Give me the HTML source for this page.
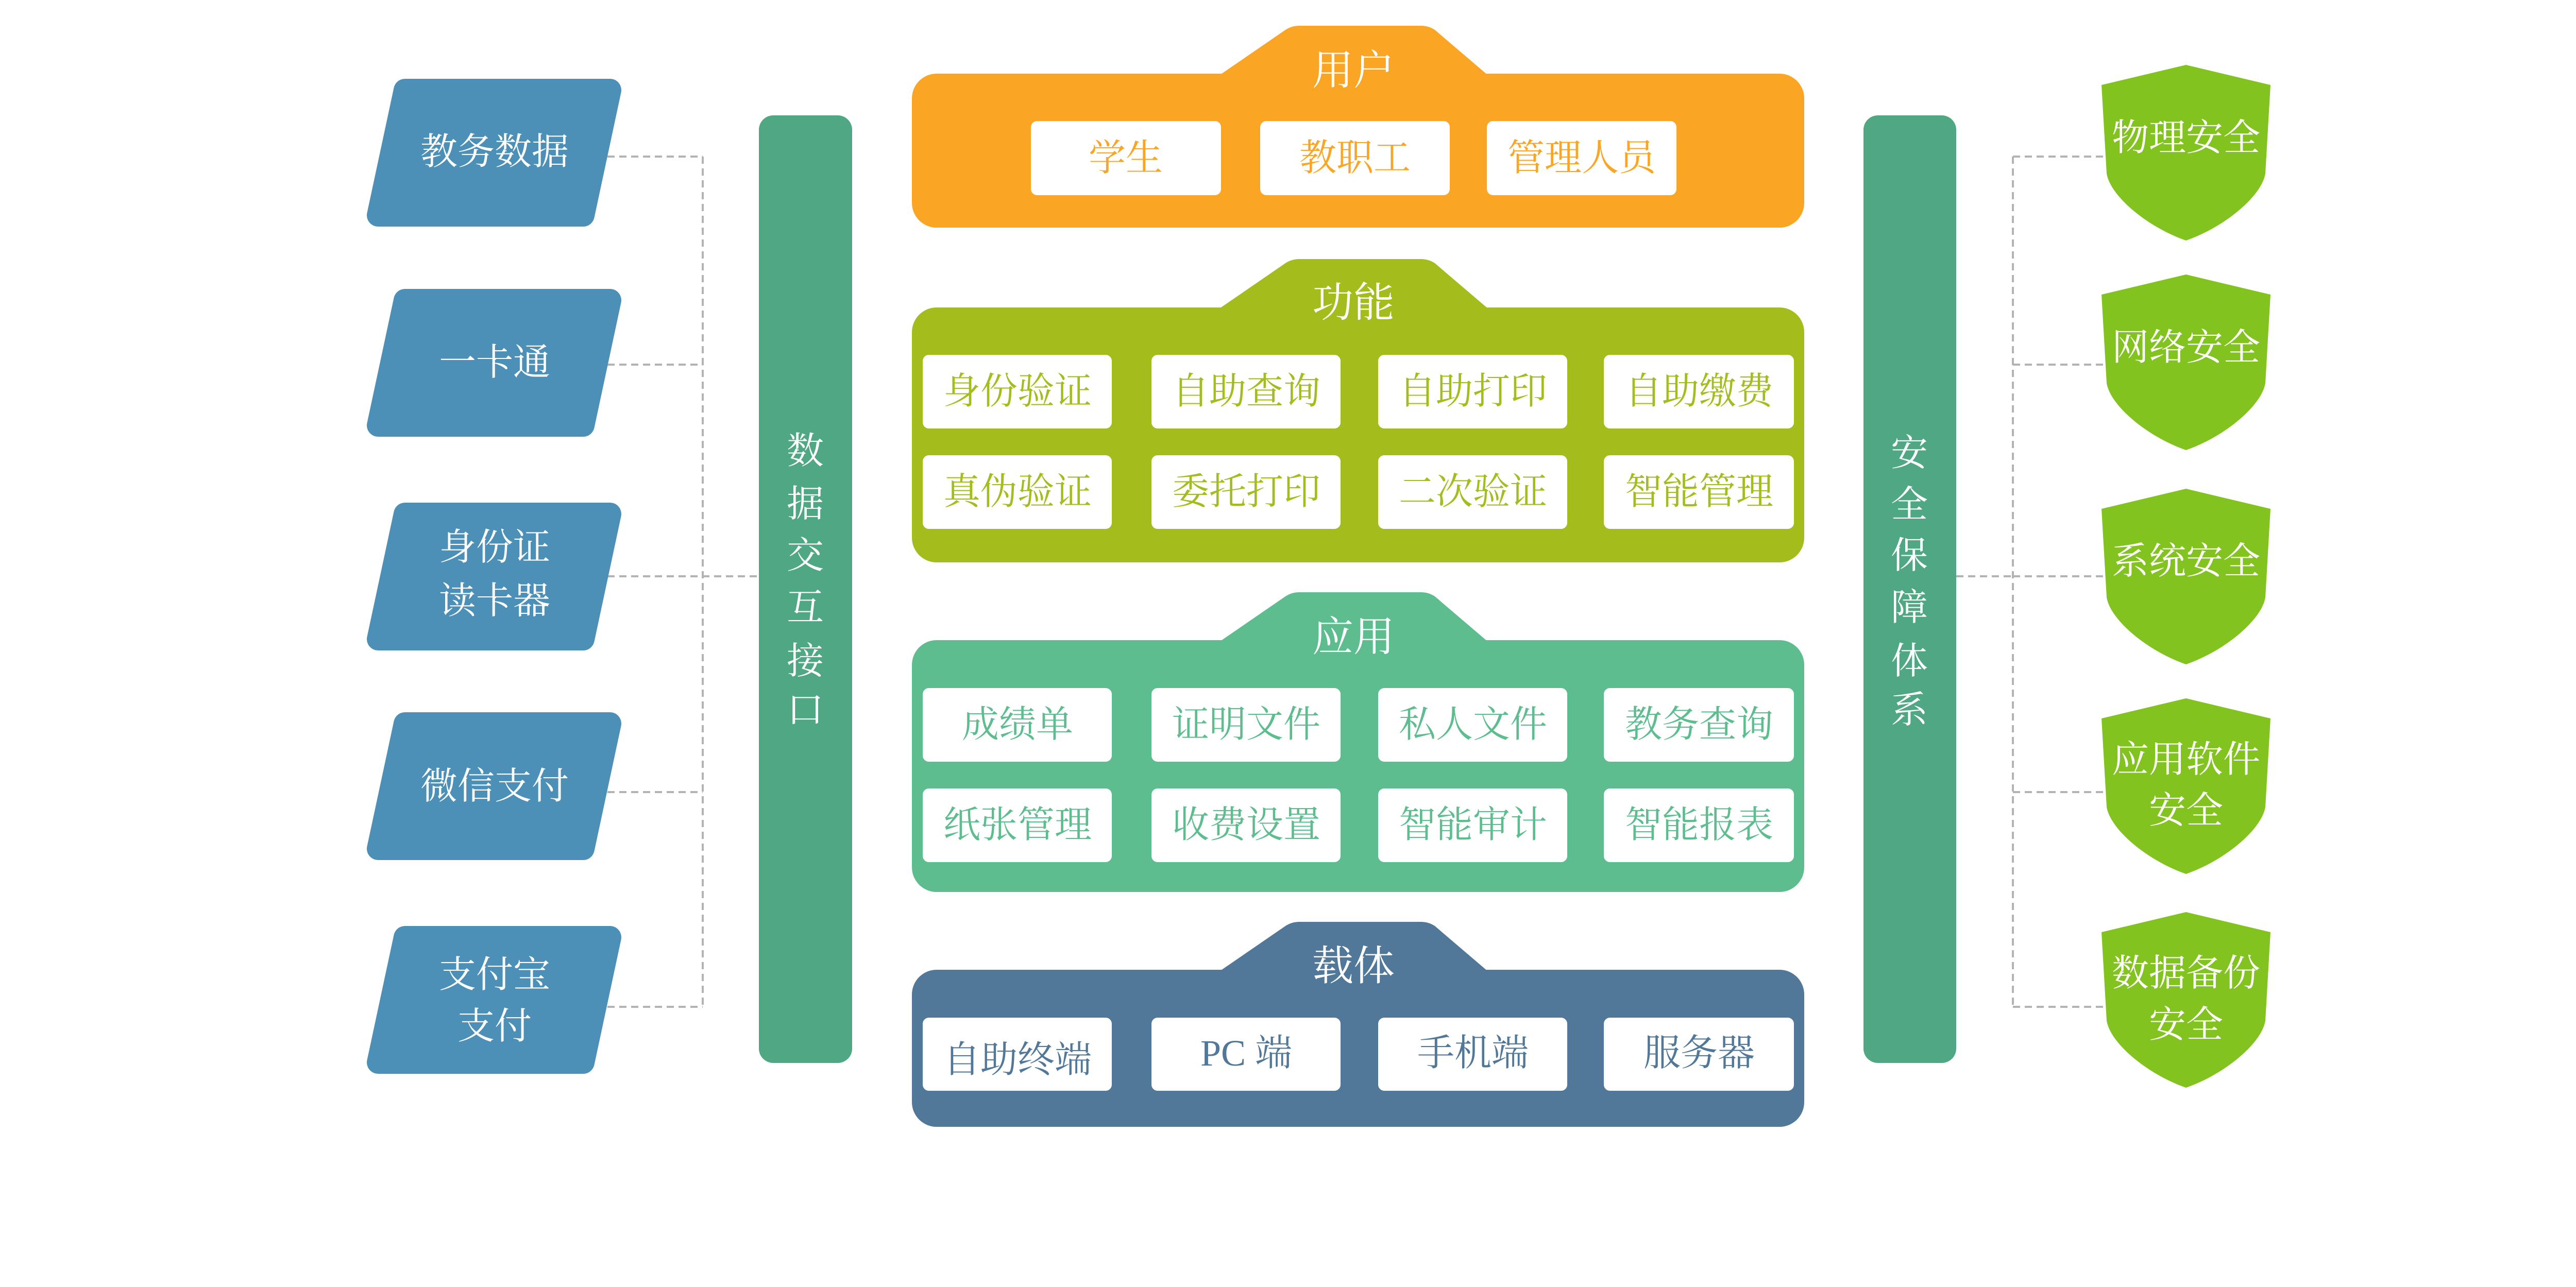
<!DOCTYPE html>
<html><head><meta charset="utf-8"><style>
html,body{margin:0;padding:0;background:#fff}
svg{display:block}
text{font-family:"Liberation Serif","Noto Serif CJK SC",serif;text-anchor:middle;dominant-baseline:central}
</style></head><body>
<svg width="5019" height="2499" viewBox="0 0 5019 2499" xmlns="http://www.w3.org/2000/svg">
<g stroke="#b3b3b3" stroke-width="4" stroke-dasharray="14,9" fill="none">
<path d="M1179,304H1364M1179,708H1364M1179,1119H1473M1179,1538H1364M1179,1955H1364M1364,304V1955"/>
<path d="M3797,1119H3907M3907,304H4092M3907,708H4092M3907,1119H4092M3907,1538H4092M3907,1955H4092M3907,304V1955"/>
</g>
<g fill="#4C90B7" stroke="#4C90B7" stroke-width="44" stroke-linejoin="round">
<polygon points="786,175 1184,175 1132,418 734,418"/>
<polygon points="786,583 1184,583 1132,826 734,826"/>
<polygon points="786,998 1184,998 1132,1241 734,1241"/>
<polygon points="786,1405 1184,1405 1132,1648 734,1648"/>
<polygon points="786,1820 1184,1820 1132,2063 734,2063"/>
</g>
<g fill="#fff" font-size="72">
<text x="960" y="295">教务数据</text>
<text x="960" y="704">一卡通</text>
<text x="960" y="1063">身份证</text>
<text x="960" y="1167">读卡器</text>
<text x="960" y="1527">微信支付</text>
<text x="960" y="1893">支付宝</text>
<text x="960" y="1993">支付</text>
</g>
<rect x="1473" y="224" width="181" height="1840" rx="28" fill="#50A783"/>
<rect x="3617" y="224" width="180" height="1840" rx="28" fill="#50A783"/>
<g fill="#fff" font-size="72">
<text x="1563" y="876">数</text><text x="1563" y="979">据</text><text x="1563" y="1079">交</text>
<text x="1563" y="1180">互</text><text x="1563" y="1284">接</text><text x="1563" y="1379">口</text>
<text x="3706" y="880">安</text><text x="3706" y="980">全</text><text x="3706" y="1079">保</text>
<text x="3706" y="1180">障</text><text x="3706" y="1284">体</text><text x="3706" y="1379">系</text>
</g>
<g fill="#82C31F">
<path d="M4243,126 L4407,165 L4397,337 C4390,380 4320,440 4243,467 C4166,440 4096,380 4089,337 L4079,165 Z"/>
<path transform="translate(0,407)" d="M4243,126 L4407,165 L4397,337 C4390,380 4320,440 4243,467 C4166,440 4096,380 4089,337 L4079,165 Z"/>
<path transform="translate(0,823)" d="M4243,126 L4407,165 L4397,337 C4390,380 4320,440 4243,467 C4166,440 4096,380 4089,337 L4079,165 Z"/>
<path transform="translate(0,1230)" d="M4243,126 L4407,165 L4397,337 C4390,380 4320,440 4243,467 C4166,440 4096,380 4089,337 L4079,165 Z"/>
<path transform="translate(0,1645)" d="M4243,126 L4407,165 L4397,337 C4390,380 4320,440 4243,467 C4166,440 4096,380 4089,337 L4079,165 Z"/>
</g>
<g fill="#fff" font-size="72">
<text x="4243" y="268">物理安全</text>
<text x="4243" y="675">网络安全</text>
<text x="4243" y="1090">系统安全</text>
<text x="4243" y="1475">应用软件</text>
<text x="4243" y="1574">安全</text>
<text x="4243" y="1890">数据备份</text>
<text x="4243" y="1990">安全</text>
</g>
<defs>
<path id="tab" d="M0,96 L128,8 Q140,0 155,0 L391,0 Q406,0 418,8 L521,96 L521,110 L0,110 Z"/>
</defs>
<use href="#tab" x="2367" y="50" fill="#FBA524"/>
<rect x="1770" y="143" width="1732" height="299" rx="48" fill="#FBA524"/>
<text x="2627" y="138" font-size="80" fill="#fff">用户</text>
<g fill="#fff"><rect x="2001" y="235" width="369" height="144" rx="12"/><rect x="2446" y="235" width="368" height="144" rx="12"/><rect x="2886" y="235" width="368" height="144" rx="12"/></g>
<g fill="#FBA524" font-size="72"><text x="2185" y="307">学生</text><text x="2630" y="307">教职工</text><text x="3070" y="307">管理人员</text></g>
<use href="#tab" x="2367" y="503" fill="#A4BD1D"/>
<rect x="1770" y="597" width="1732" height="495" rx="48" fill="#A4BD1D"/>
<text x="2627" y="589" font-size="80" fill="#fff">功能</text>
<g fill="#fff">
<rect x="1791" y="689" width="367" height="143" rx="12"/><rect x="2235" y="689" width="367" height="143" rx="12"/><rect x="2675" y="689" width="367" height="143" rx="12"/><rect x="3113" y="689" width="369" height="143" rx="12"/>
<rect x="1791" y="884" width="367" height="143" rx="12"/><rect x="2235" y="884" width="367" height="143" rx="12"/><rect x="2675" y="884" width="367" height="143" rx="12"/><rect x="3113" y="884" width="369" height="143" rx="12"/>
</g>
<g fill="#A4BD1D" font-size="72">
<text x="1975" y="760">身份验证</text><text x="2419" y="760">自助查询</text><text x="2859" y="760">自助打印</text><text x="3298" y="760">自助缴费</text>
<text x="1975" y="955">真伪验证</text><text x="2419" y="955">委托打印</text><text x="2859" y="955">二次验证</text><text x="3298" y="955">智能管理</text>
</g>
<use href="#tab" x="2367" y="1150" fill="#5EBD8F"/>
<rect x="1770" y="1243" width="1732" height="489" rx="48" fill="#5EBD8F"/>
<text x="2627" y="1238" font-size="80" fill="#fff">应用</text>
<g fill="#fff">
<rect x="1791" y="1336" width="367" height="143" rx="12"/><rect x="2235" y="1336" width="367" height="143" rx="12"/><rect x="2675" y="1336" width="367" height="143" rx="12"/><rect x="3113" y="1336" width="369" height="143" rx="12"/>
<rect x="1791" y="1531" width="367" height="143" rx="12"/><rect x="2235" y="1531" width="367" height="143" rx="12"/><rect x="2675" y="1531" width="367" height="143" rx="12"/><rect x="3113" y="1531" width="369" height="143" rx="12"/>
</g>
<g fill="#5EBD8F" font-size="72">
<text x="1975" y="1407">成绩单</text><text x="2419" y="1407">证明文件</text><text x="2859" y="1407">私人文件</text><text x="3298" y="1407">教务查询</text>
<text x="1975" y="1602">纸张管理</text><text x="2419" y="1602">收费设置</text><text x="2859" y="1602">智能审计</text><text x="3298" y="1602">智能报表</text>
</g>
<use href="#tab" x="2367" y="1790" fill="#527899"/>
<rect x="1770" y="1883" width="1732" height="305" rx="48" fill="#527899"/>
<text x="2627" y="1877" font-size="80" fill="#fff">载体</text>
<g fill="#fff">
<rect x="1791" y="1976" width="367" height="142" rx="12"/><rect x="2235" y="1976" width="367" height="142" rx="12"/><rect x="2675" y="1976" width="367" height="142" rx="12"/><rect x="3113" y="1976" width="369" height="142" rx="12"/>
</g>
<g fill="#527899" font-size="72">
<text x="1975" y="2058">自助终端</text><text x="2419" y="2045">PC 端</text><text x="2859" y="2045">手机端</text><text x="3298" y="2045">服务器</text>
</g>
</svg>
</body></html>
